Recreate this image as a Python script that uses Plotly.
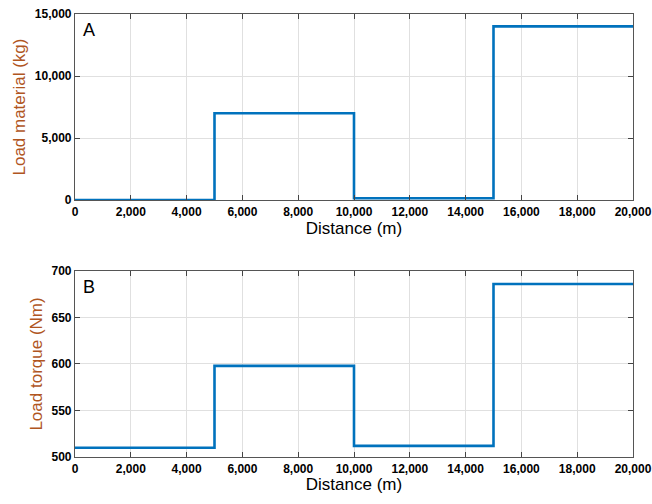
import plotly.graph_objects as go
from plotly.subplots import make_subplots

distance = [0, 5000, 10000, 15000, 20000]
load_material = [0, 7000, 150, 14000, 14000]
load_torque = [510, 598, 512, 686, 686]

x_ticks = [0, 2000, 4000, 6000, 8000, 10000, 12000, 14000, 16000, 18000, 20000]
x_ticklabels = ["0", "2,000", "4,000", "6,000", "8,000", "10,000", "12,000", "14,000", "16,000", "18,000", "20,000"]
ya_ticks = [0, 5000, 10000, 15000]
ya_ticklabels = ["0", "5,000", "10,000", "15,000"]
yb_ticks = [500, 550, 600, 650, 700]

LINE = "#0072BD"
TITLE_COL = "#b0561f"
tickfont = dict(family="Liberation Sans, Arial", size=12, color="black", weight="bold")
titlefont = dict(family="Liberation Sans, Arial", size=17, color="black")

fig = make_subplots(rows=2, cols=1)
fig.add_trace(go.Scatter(x=distance, y=load_material, mode="lines", line_shape="hv",
                         line=dict(color=LINE, width=2.6), showlegend=False), row=1, col=1)
fig.add_trace(go.Scatter(x=distance, y=load_torque, mode="lines", line_shape="hv",
                         line=dict(color=LINE, width=2.6), showlegend=False), row=2, col=1)

common_x = dict(range=[0, 20000], tickvals=x_ticks, ticktext=x_ticklabels, ticks="inside", ticklen=5,
                tickcolor="#444", showline=True, linecolor="#555", linewidth=1.2, mirror="ticks",
                showgrid=True, gridcolor="#e0e0e0", gridwidth=1, zeroline=False, tickfont=tickfont,
                automargin=False,
                title=dict(text="Distance (m)", font=titlefont, standoff=2))
common_y = dict(ticks="inside", ticklen=5, tickcolor="#444", showline=True, linecolor="#555", linewidth=1.2,
                mirror="ticks", showgrid=True, gridcolor="#e0e0e0", gridwidth=1, zeroline=False,
                tickfont=tickfont, automargin=False)

fig.update_xaxes(**common_x, row=1, col=1)
fig.update_xaxes(**common_x, row=2, col=1)
fig.update_yaxes(**common_y, range=[0, 15000], tickvals=ya_ticks, ticktext=ya_ticklabels,
                 title=dict(text="Load material (kg)", font=dict(family="Liberation Sans, Arial", size=17, color=TITLE_COL), standoff=4),
                 row=1, col=1)
fig.update_yaxes(**common_y, range=[500, 700], tickvals=yb_ticks,
                 title=dict(text="Load torque (Nm)", font=dict(family="Liberation Sans, Arial", size=17, color=TITLE_COL), standoff=4),
                 row=2, col=1)

fig.update_layout(
    width=652, height=504,
    margin=dict(l=75, r=19, t=14, b=47),
    paper_bgcolor="white", plot_bgcolor="white",
    xaxis=dict(domain=[0, 1]), xaxis2=dict(domain=[0, 1]),
    yaxis=dict(domain=[0.58, 1.0]), yaxis2=dict(domain=[0.0, 0.42]),
)
fig.add_annotation(text="A", xref="x domain", yref="y domain", x=0.01, y=0.98, xanchor="left", yanchor="top",
                   showarrow=False, font=dict(family="Liberation Sans, Arial", size=18, color="black"))
fig.add_annotation(text="B", xref="x2 domain", yref="y2 domain", x=0.01, y=0.98, xanchor="left", yanchor="top",
                   showarrow=False, font=dict(family="Liberation Sans, Arial", size=18, color="black"))

fig.write_html("out.html", config={"displayModeBar": False},
               post_script="document.body.style.margin='0';document.body.style.padding='0';document.body.style.overflow='hidden';")
